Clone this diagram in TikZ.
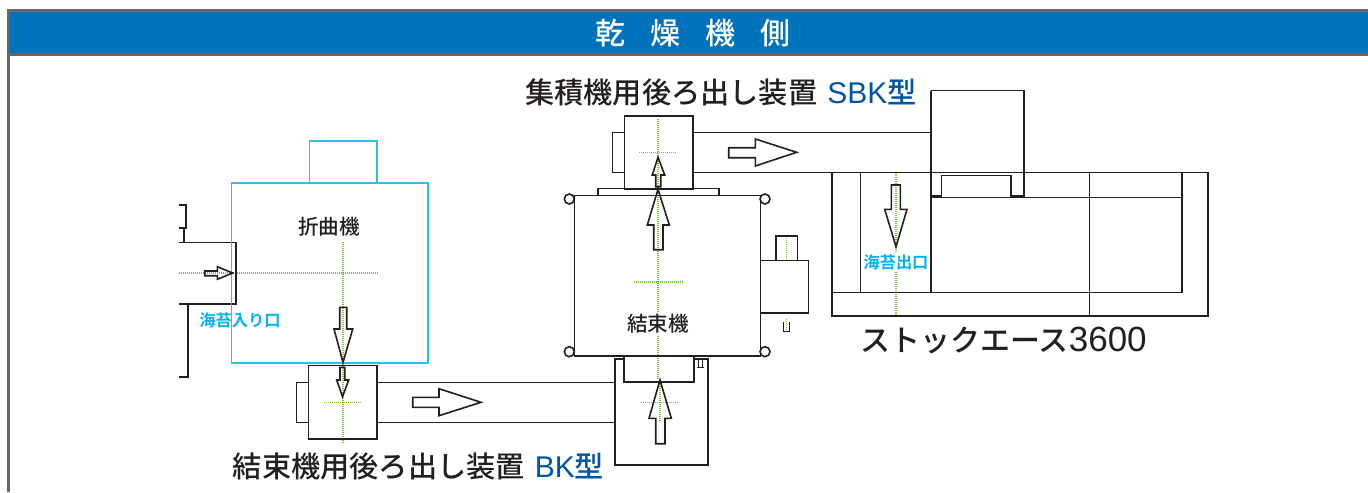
\documentclass[tikz,border=0pt]{standalone}
\usepackage{fontspec}
\setmainfont{Noto Sans CJK JP Medium}[BoldFont=Noto Sans CJK JP Bold]
\newfontfamily\latinfont{Liberation Sans}
\definecolor{barblue}{HTML}{0072BC}
\definecolor{bargrey}{HTML}{666666}
\definecolor{cyanline}{HTML}{29BFEF}
\definecolor{cyantext}{HTML}{00B4EF}
\definecolor{labelblue}{HTML}{0054A6}
\definecolor{axisgreen}{HTML}{7AC231}
\definecolor{inkblack}{HTML}{231F20}
\tikzset{
  mach/.style={draw=inkblack,line width=0.8pt},
  bender/.style={draw=cyanline,line width=0.8pt},
  axis/.style={draw=axisgreen,line width=0.8pt,dash pattern=on 0.7pt off 0.3pt},
  arw/.style={draw=inkblack,line width=0.8pt,line join=miter},
  lab/.style={inner sep=0pt,text=inkblack,font=\fontsize{14.6}{15}\selectfont},
  smalllab/.style={inner sep=0pt,text=inkblack,font=\fontsize{10.3}{12}\selectfont},
  cyanlab/.style={inner sep=0pt,text=cyantext,font=\fontsize{8.1}{10}\bfseries\selectfont},
}
\begin{document}
\begin{tikzpicture}[x=0.5pt,y=-0.5pt]
\useasboundingbox (0,0) rectangle (1368,492);
\fill[white] (0,0) rectangle (1368,492);
\fill[bargrey] (7,9) rectangle (1368,56);
\fill[bargrey] (7,9) rectangle (10,492);
\fill[barblue] (10,12) rectangle (1368,53);
\node[inner sep=0pt,text=white,font=\fontsize{15}{15}\selectfont] (title) at (693,33) {乾\hspace{12.5pt}燥\hspace{12.5pt}機\hspace{12.5pt}側};

\draw[axis] (179,273)--(378,273);
\draw[axis] (343,242)--(343,443);
\draw[axis] (324,402.5)--(361,402.5);
\draw[axis] (658,119)--(658,313);
\draw[axis] (658,336)--(658,380);
\draw[axis] (660,380)--(660,421);
\draw[axis] (639,152.5)--(677,152.5);
\draw[axis] (634,282)--(683,282);
\draw[axis] (641,402.5)--(679,402.5);
\draw[axis] (786.5,236)--(786.5,260);
\draw[axis] (786.5,319)--(786.5,331);
\draw[axis] (895.7,173)--(895.7,252);
\draw[axis] (895.7,272)--(895.7,316);

\draw[mach] (179,242.3)--(235.7,242.3)--(235.7,304)--(179,304);
\draw[mach] (179,205)--(186,205)--(186,228)--(179,228);
\draw[mach] (184,228)--(184,242.3);
\draw[mach] (187.7,304)--(187.7,377)--(179,377);
\draw[bender] (231.5,182.7) rectangle (427.7,363);
\draw[bender] (309.3,182.7)--(309.3,141)--(376.7,141)--(376.7,182.7);

\draw[mach] (308.3,365.3) rectangle (376.7,439);
\draw[mach] (308.3,382.3)--(296.3,382.3)--(296.3,422.3)--(308.3,422.3);
\draw[mach] (376.7,382.3)--(614.7,382.3);
\draw[mach] (376.7,422.3)--(614.7,422.3);

\draw[mach] (574.3,195.3) rectangle (760.3,355.7);
\draw[mach] (569.3,199) circle (5);
\draw[mach] (765,199) circle (5);
\draw[mach] (569.3,351.7) circle (5);
\draw[mach] (765,351.7) circle (5);
\draw[mach] (597.7,195.3)--(597.7,188.3)--(718.7,188.3)--(718.7,195.3);
\draw[mach] (624.3,115.7) rectangle (693,189);
\draw[mach] (624.3,132.3)--(612.3,132.3)--(612.3,172.3)--(624.3,172.3);
\draw[mach] (693,132.3)--(930.7,132.3);
\draw[mach] (693,172.5)--(1207.7,172.5);
\draw[mach] (760.3,260.3) rectangle (808.3,313);
\draw[mach] (775.7,260.3)--(775.7,235.7)--(797.3,235.7)--(797.3,260.3);
\draw[mach,line width=0.5pt] (783.5,321.7)--(783.5,331.7)--(789.5,331.7)--(789.5,321.7);

\draw[mach] (623.7,359)--(614.7,359)--(614.7,464.7)--(707.7,464.7)--(707.7,359)--(693.7,359);
\draw[mach,line width=0.9pt] (623.7,355.7)--(623.7,382.3)--(693.7,382.3)--(693.7,355.7);
\draw[mach,line width=0.5pt] (696.5,367)--(703.5,367) (698,360)--(698,367) (702,360)--(702,367);

\draw[mach] (831.7,172.5) rectangle (1207.7,315.7);
\draw[mach] (860.3,172.5)--(860.3,292.5);
\draw[mach] (930.7,90.7)--(930.7,292.5);
\draw[mach] (831.7,292.5)--(1181.7,292.5)--(1181.7,172.5);
\draw[mach] (1089.3,172.5)--(1089.3,315.7);
\draw[mach] (930.7,197.5)--(1181.7,197.5);
\draw[mach] (930.7,90.7)--(1023.7,90.7)--(1023.7,195.7)--(1011,195.7)--(1011,175.5)--(941.3,175.5)--(941.3,195.7)--(930.7,195.7);

\draw[arw] (204.7,271)--(217.3,271)--(217.3,266.7)--(232.7,273)--(217.3,279.3)--(217.3,275.7)--(204.7,275.7)--cycle;
\draw[arw] (339.7,307.3)--(346.7,307.3)--(346.7,329)--(352.7,329)--(343,362.3)--(334,329)--(339.7,329)--cycle;
\draw[arw] (340,367.3)--(344.7,367.3)--(344.7,380)--(348.7,380)--(342.5,396.7)--(336.7,380)--(340,380)--cycle;
\draw[arw] (412.7,397.3)--(439,397.3)--(439,388.7)--(481,402.3)--(439,415.7)--(439,407.3)--(412.7,407.3)--cycle;
\draw[arw] (728.7,147.7)--(755.3,147.7)--(755.3,139)--(796.7,152.3)--(755.3,166)--(755.3,157.7)--(728.7,157.7)--cycle;
\draw[arw] (658,157.3)--(664.7,175)--(660.7,175)--(660.7,186.7)--(655.7,186.7)--(655.7,175)--(652.3,175)--cycle;
\draw[arw] (658,189.3)--(669.3,225)--(663,225)--(663,249.7)--(653.7,249.7)--(653.7,225)--(647.3,225)--cycle;
\draw[arw] (660,380)--(671.3,418.3)--(665,418.3)--(665,443.7)--(655.7,443.7)--(655.7,418.3)--(649,418.3)--cycle;
\draw[arw] (891.3,185)--(900.3,185)--(900.3,209.3)--(907,209.3)--(896,246.7)--(884.7,209.3)--(891.3,209.3)--cycle;

\node[smalllab] (bendername) at (329,227) {折曲機};
\node[smalllab] (bundlername) at (658,324) {結束機};
\node[cyanlab] (inlet) at (240,320) {海苔入り口};
\node[cyanlab] (outlet) at (896,262) {海苔出口};
\node[lab] (sbklabel) at (721,92) {集積機用後ろ出し装置\hspace{5pt}\textcolor{labelblue}{{\latinfont\fontsize{15}{15}\selectfont SBK}型}};
\node[lab] (bklabel) at (418.5,466) {結束機用後ろ出し装置\hspace{5pt}\textcolor{labelblue}{{\latinfont\fontsize{15}{15}\selectfont BK}型}};
\node[lab,font=\fontsize{15}{15}\selectfont] (stacker) at (1003.5,341) {ストックエース{\latinfont\fontsize{17.5}{15}\selectfont 3600}};
\end{tikzpicture}
\end{document}
